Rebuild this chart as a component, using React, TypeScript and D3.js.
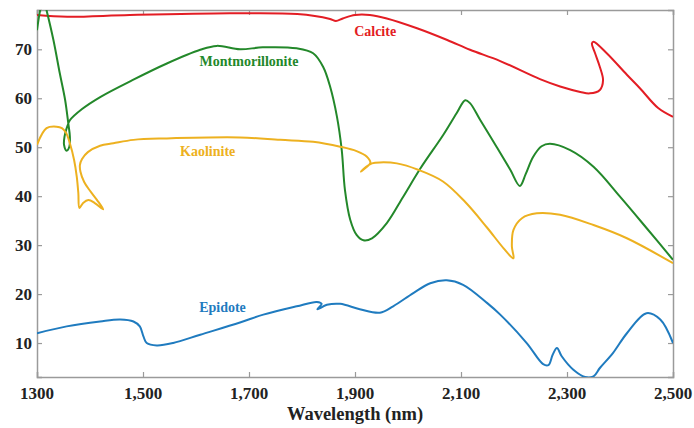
import * as d3 from "d3";
import React, { useEffect, useRef } from "react";

// wavelength (nm) / reflectance pairs, in drawing order
const calciteX = [1300, 1357, 1475, 1664, 1791, 1853, 1864, 1877, 1900, 1928, 1960, 2017, 2074, 2117, 2174, 2249, 2287, 2325, 2343, 2362, 2368, 2362, 2353, 2347, 2350, 2375, 2413, 2438, 2472, 2500];
const calciteY = [77.0, 76.65, 77.0, 77.35, 77.2, 76.2, 75.8, 76.3, 77.0, 77.0, 76.3, 74.3, 71.9, 69.9, 67.6, 63.9, 62.4, 61.3, 61.0, 61.7, 63.7, 66.4, 69.2, 71.2, 71.55, 69.2, 64.8, 62.0, 58.0, 56.2];

const montX = [1300, 1306, 1312, 1318, 1331, 1343, 1353, 1359, 1362, 1361, 1356, 1351, 1352, 1356, 1362, 1385, 1420, 1480, 1545, 1608, 1639, 1683, 1726, 1790, 1821, 1840, 1853, 1866, 1875, 1881, 1891, 1903, 1916, 1932, 1960, 1991, 2023, 2067, 2092, 2108, 2117, 2136, 2167, 2193, 2211, 2222, 2236, 2252, 2268, 2306, 2350, 2400, 2450, 2500];
const montY = [73.9, 78, 80.5, 78, 71.9, 65.1, 59.7, 54.9, 52.2, 50.1, 49.3, 50.5, 52.2, 53.9, 55.5, 57.8, 60.3, 63.7, 67.1, 69.9, 70.7, 70.0, 70.4, 70.2, 69.2, 66.4, 62.4, 56.2, 49.4, 41.3, 35.2, 32.1, 31.0, 31.4, 34.5, 39.9, 45.6, 52.6, 57.0, 59.6, 59.0, 55.6, 50.1, 45.4, 42.1, 44.5, 48.0, 50.2, 50.7, 49.4, 46.0, 39.9, 33.5, 27.0];

const kaolX = [1300, 1318, 1337, 1347, 1355, 1362, 1370, 1375, 1378, 1380, 1387, 1397, 1409, 1425, 1413, 1400, 1389, 1382, 1381, 1385, 1396, 1419, 1444, 1482, 1545, 1683, 1759, 1821, 1872, 1903, 1922, 1929, 1919, 1911, 1921, 1932, 1947, 1979, 2019, 2066, 2108, 2149, 2180, 2199, 2196, 2199, 2215, 2243, 2287, 2350, 2413, 2500];
const kaolY = [50.5, 53.9, 54.2, 53.9, 52.9, 50.8, 47.4, 44.0, 40.6, 37.6, 38.6, 39.2, 38.6, 37.3, 39.25, 41.1, 42.9, 45.0, 46.4, 47.6, 49.0, 50.3, 50.8, 51.5, 51.8, 52.0, 51.5, 51.1, 50.1, 49.2, 48.1, 46.8, 45.7, 45.0, 46.0, 46.7, 46.9, 46.7, 45.4, 43.0, 38.8, 33.6, 29.4, 27.3, 29.7, 33.1, 35.5, 36.5, 36.2, 34.1, 31.4, 26.3];

const epiX = [1300, 1356, 1419, 1457, 1482, 1494, 1501, 1507, 1526, 1557, 1608, 1683, 1727, 1790, 1828, 1837, 1829, 1847, 1872, 1909, 1947, 1972, 2010, 2042, 2073, 2104, 2149, 2174, 2224, 2255, 2265, 2273, 2281, 2290, 2312, 2334, 2350, 2362, 2387, 2413, 2450, 2476, 2500];
const epiY = [12.0, 13.4, 14.4, 14.8, 14.4, 13.4, 11.3, 10.0, 9.5, 10.0, 11.7, 14.2, 15.8, 17.5, 18.4, 18.0, 16.9, 17.8, 18.0, 16.9, 16.2, 17.5, 20.2, 22.2, 22.8, 21.9, 18.2, 15.8, 10.0, 5.7, 5.5, 7.6, 9.0, 7.3, 4.55, 3.06, 3.2, 4.9, 8.0, 12.0, 16.1, 14.8, 10.0];

const xTicks = [1300, 1500, 1700, 1900, 2100, 2300, 2500];
const yTicks = [10, 20, 30, 40, 50, 60, 70];

const seriesNames = ["Calcite", "Montmorillonite", "Kaolinite", "Epidote"];
const seriesColors = ["#e31d24", "#23882a", "#edb120", "#1f7bbf"];
const labelX = [1938, 1700, 1622, 1650];
const labelY = [73.7, 67.5, 49.2, 17.4];

const W = 694;
const H = 428;
const margin = { top: 10, right: 21, bottom: 51, left: 37 };
const font = "'Liberation Serif', 'Times New Roman', serif";

const App = () => {
  const svgRef = useRef<SVGSVGElement>(null);

  useEffect(() => {
    const svg = d3.select(svgRef.current);
    svg.selectAll("*").remove();

    const iw = W - margin.left - margin.right;
    const ih = H - margin.top - margin.bottom;

    const x = d3.scaleLinear().domain([1300, 2500]).range([0, iw]);
    const y = d3.scaleLinear().domain([3.06, 78.03]).range([ih, 0]);

    const g = svg
      .append("g")
      .attr("transform", `translate(${margin.left},${margin.top})`);

    svg
      .append("defs")
      .append("clipPath")
      .attr("id", "plotclip")
      .append("rect")
      .attr("width", iw)
      .attr("height", ih);

    const axisColor = "#9a9a9a";

    // inward ticks on all four sides
    g.append("g")
      .attr("transform", `translate(0,${ih})`)
      .call(d3.axisBottom(x).tickValues(xTicks).tickSize(-5).tickFormat(() => ""));
    g.append("g").call(d3.axisTop(x).tickValues(xTicks).tickSize(-5).tickFormat(() => ""));
    g.append("g").call(d3.axisLeft(y).tickValues(yTicks).tickSize(-5).tickFormat(() => ""));
    g.append("g")
      .attr("transform", `translate(${iw},0)`)
      .call(d3.axisRight(y).tickValues(yTicks).tickSize(-5).tickFormat(() => ""));
    g.selectAll(".domain").attr("stroke", axisColor).attr("stroke-width", 1.5);
    g.selectAll(".tick line").attr("stroke", axisColor).attr("stroke-width", 1.2);

    g.selectAll(".xlab")
      .data(xTicks)
      .enter()
      .append("text")
      .attr("x", (d) => x(d))
      .attr("y", ih + 22)
      .attr("text-anchor", "middle")
      .style("font-family", font)
      .style("font-weight", "bold")
      .style("font-size", "17px")
      .style("fill", "#222")
      .text((d) => (d === 1300 ? "1300" : d3.format(",")(d)));

    g.selectAll(".ylab")
      .data(yTicks)
      .enter()
      .append("text")
      .attr("x", -5)
      .attr("y", (d) => y(d))
      .attr("dy", "0.35em")
      .attr("text-anchor", "end")
      .style("font-family", font)
      .style("font-weight", "bold")
      .style("font-size", "17px")
      .style("fill", "#222")
      .text((d) => d);

    g.append("text")
      .attr("x", iw / 2)
      .attr("y", ih + 43)
      .attr("text-anchor", "middle")
      .style("font-family", font)
      .style("font-weight", "bold")
      .style("font-size", "18.5px")
      .style("fill", "#222")
      .text("Wavelength (nm)");

    const line = d3
      .line<[number, number]>()
      .x((d) => x(d[0]))
      .y((d) => y(d[1]))
      .curve(d3.curveCatmullRom.alpha(0.5));

    const allX = [calciteX, montX, kaolX, epiX];
    const allY = [calciteY, montY, kaolY, epiY];

    const plot = g.append("g").attr("clip-path", "url(#plotclip)");
    allX.forEach((xs, i) => {
      const pts = xs.map((v, j) => [v, allY[i][j]] as [number, number]);
      plot
        .append("path")
        .datum(pts)
        .attr("d", line)
        .attr("fill", "none")
        .attr("stroke", seriesColors[i])
        .attr("stroke-width", 2)
        .attr("stroke-linejoin", "round");
    });

    seriesNames.forEach((name, i) => {
      g.append("text")
        .attr("x", x(labelX[i]))
        .attr("y", y(labelY[i]))
        .attr("dy", "0.35em")
        .attr("text-anchor", "middle")
        .style("font-family", font)
        .style("font-weight", "bold")
        .style("font-size", "14px")
        .style("fill", seriesColors[i])
        .text(name);
    });
  }, []);

  return (
    <svg
      ref={svgRef}
      width={W}
      height={H}
      style={{ position: "absolute", left: 0, top: 0, background: "#fff" }}
    ></svg>
  );
};

export default App;
